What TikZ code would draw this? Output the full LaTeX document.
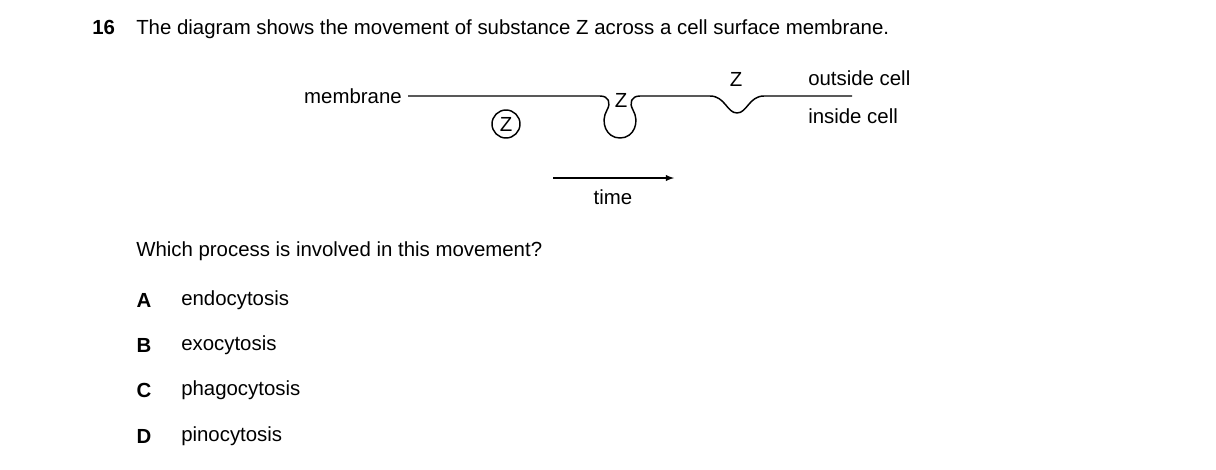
\documentclass[tikz,border=0pt]{standalone}
\usepackage{fontspec}
\setmainfont{Liberation Sans}
\begin{document}
\begin{tikzpicture}[x=0.75pt,y=-0.75pt,
  txt/.style={inner sep=0pt,font=\fontsize{15.3}{18}\selectfont},
  mem/.style={line width=1.1pt,line join=round}]
\useasboundingbox (0,0) rectangle (1216,469);
\node[txt,anchor=base west] (num) at (92,34) {\textbf{16}};
\node[txt,anchor=base west] (q) at (136,34) {The diagram shows the movement of substance Z across a cell surface membrane.};
\node[txt,anchor=east] (ml) at (402,96) {membrane};
\coordinate (m0) at (408,96);
\coordinate (m1) at (852,96);
\draw[mem] (m0) -- (600,96) .. controls (609,96) and (611,103) .. (607,110)
  .. controls (600,122) and (606,138) .. (620,138)
  .. controls (634,138) and (640,122) .. (633,110)
  .. controls (629,103) and (631,96) .. (640,96)
  -- (710,96) .. controls (725,96) and (727,113) .. (737,113)
  .. controls (747,113) and (749,96) .. (764,96) -- (m1);
\node[txt] (z1) at (621,100) {Z};
\node[txt] (z2) at (736,79) {Z};
\node[txt,draw,circle,line width=1.1pt,minimum size=21pt,inner sep=0pt] (z0) at (506,124) {Z};
\node[txt,anchor=west] (out) at (808,78) {outside cell};
\node[txt,anchor=west] (in) at (808,116) {inside cell};
\coordinate (t0) at (553,178);
\coordinate (t1) at (674,178);
\draw[line width=1.1pt,-latex] (t0) -- (t1);
\node[txt] (time) at (613,197) {time};
\node[txt,anchor=west] (which) at (136,251) {Which process is involved in this movement?};
\foreach \l/\t/\y in {A/endocytosis/300,B/exocytosis/345,C/phagocytosis/390,D/pinocytosis/436}{
  \node[txt] (l\l) at (144,\y) {\textbf{\l}};
  \node[txt,anchor=west] (o\l) at (181,\y) {\t};
}
\end{tikzpicture}
\end{document}
